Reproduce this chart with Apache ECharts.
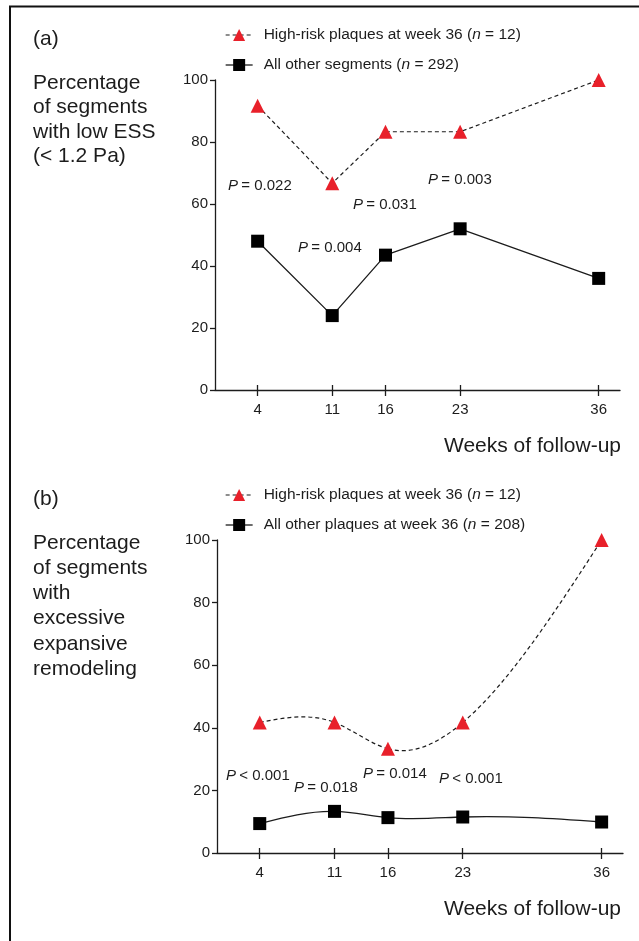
<!DOCTYPE html>
<html>
<head>
<meta charset="utf-8">
<script src="https://cdn.jsdelivr.net/npm/echarts@6/dist/echarts.min.js"></script>
<style>
html,body{margin:0;padding:0;background:#fff;}
#chart{width:639px;height:941px;}
</style>
</head>
<body>
<div id="chart"></div>
<script>
// ---- data ----
var weeks = [4, 11, 16, 23, 36];
var weekTicks = [4, 11, 16, 23, 36];
var highRiskA = [91.7, 66.7, 83.3, 83.3, 100];
var otherA = [48, 24, 43.5, 52, 36];
var highRiskB = [41.7, 41.7, 33.3, 41.7, 100];
var otherB = [9.4, 13.3, 11.3, 11.5, 9.9];
var legendA = [['High-risk plaques at week 36 (', 'n', ' = 12)'], ['All other segments (', 'n', ' = 292)']];
var legendB = [['High-risk plaques at week 36 (', 'n', ' = 12)'], ['All other plaques at week 36 (', 'n', ' = 208)']];
var pLabelsA = [['=', '0.022'], ['=', '0.004'], ['=', '0.031'], ['=', '0.003']];
var pLabelsB = [['<', '0.001'], ['=', '0.018'], ['=', '0.014'], ['<', '0.001']];
var yTitleA = ['Percentage', 'of segments', 'with low ESS', '(< 1.2 Pa)'];
var yTitleB = ['Percentage', 'of segments', 'with', 'excessive', 'expansive', 'remodeling'];
var xTitle = 'Weeks of follow-up';

function pairs(xs, ys) { return xs.map(function (x, i) { return [x, ys[i]]; }); }

var FONT = '"Liberation Sans", Arial, sans-serif';
var INK = '#1c1c1c';
var RED = '#e8202a';

// natural cubic spline slopes (used only to shape the drawn curve between data points)
function splineSlopes(x, y) {
  var n = x.length, h = [], i;
  for (i = 0; i < n - 1; i++) h.push(x[i + 1] - x[i]);
  var a = [], b = [], c = [], d = [];
  for (i = 0; i < n; i++) {
    if (i === 0 || i === n - 1) { a.push(0); b.push(1); c.push(0); d.push(0); }
    else {
      a.push(h[i - 1]); b.push(2 * (h[i - 1] + h[i])); c.push(h[i]);
      d.push(6 * ((y[i + 1] - y[i]) / h[i] - (y[i] - y[i - 1]) / h[i - 1]));
    }
  }
  for (i = 1; i < n; i++) {
    var m = a[i] / b[i - 1];
    b[i] -= m * c[i - 1]; d[i] -= m * d[i - 1];
  }
  var M = new Array(n);
  M[n - 1] = d[n - 1] / b[n - 1];
  for (i = n - 2; i >= 0; i--) M[i] = (d[i] - c[i] * M[i + 1]) / b[i];
  var s = [];
  for (i = 0; i < n; i++) {
    if (i < n - 1) s.push((y[i + 1] - y[i]) / h[i] - h[i] * (2 * M[i] + M[i + 1]) / 6);
    else s.push((y[i] - y[i - 1]) / h[i - 1] + h[i - 1] * (M[i - 1] + 2 * M[i]) / 6);
  }
  return s;
}

function splineCurve(name, gi, ys, lineStyle) {
  var slopes = splineSlopes(weeks, ys);
  return {
    name: name + '_curve', type: 'custom', xAxisIndex: gi * 2, yAxisIndex: gi,
    data: pairs(weeks, ys), silent: true, z: 2, clip: false,
    renderItem: function (params, api) {
      var i = params.dataIndex;
      if (i >= weeks.length - 1) return null;
      var x0 = weeks[i], x1 = weeks[i + 1], y0 = ys[i], y1 = ys[i + 1], h = x1 - x0;
      var p0 = api.coord([x0, y0]);
      var c1 = api.coord([x0 + h / 3, y0 + slopes[i] * h / 3]);
      var c2 = api.coord([x1 - h / 3, y1 - slopes[i + 1] * h / 3]);
      var p1 = api.coord([x1, y1]);
      return {
        type: 'bezierCurve',
        shape: { x1: p0[0], y1: p0[1], cpx1: c1[0], cpy1: c1[1], cpx2: c2[0], cpy2: c2[1], x2: p1[0], y2: p1[1] },
        style: Object.assign({ fill: null }, lineStyle)
      };
    }
  };
}

var legendNames = { hrA: legendA[0], otA: legendA[1], hrB: legendB[0], otB: legendB[1] };
function legendFmt(name) {
  var p = legendNames[name];
  return '{t|' + p[0] + '}{i|' + p[1] + '}{t|' + p[2] + '}';
}
var legendRich = {
  t: { fontFamily: FONT, fontSize: 15.5, color: INK },
  i: { fontFamily: FONT, fontSize: 15.5, color: INK, fontStyle: 'italic' }
};

var grids = [
  { left: 215, top: 80, width: 405, height: 310 },
  { left: 217, top: 540, width: 406, height: 313 }
];

function xAxisMain(gi) {
  return {
    type: 'value', gridIndex: gi, min: 0, max: 38,
    axisLine: { show: true, lineStyle: { color: INK, width: 1.3 } },
    axisTick: { show: true, customValues: weekTicks, length: 6, lineStyle: { color: INK, width: 1.3 } },
    axisLabel: { show: true, customValues: weekTicks, margin: 12, fontFamily: FONT, fontSize: 15, color: INK },
    splitLine: { show: false }
  };
}
function xAxisInner(gi) {
  return {
    type: 'value', gridIndex: gi, min: 0, max: 38, position: 'bottom',
    axisLine: { show: false },
    axisTick: { show: true, inside: true, customValues: weekTicks, length: 5, lineStyle: { color: INK, width: 1.3 } },
    axisLabel: { show: false },
    splitLine: { show: false }
  };
}
function yAxis(gi) {
  return {
    type: 'value', gridIndex: gi, min: 0, max: 100, interval: 20,
    axisLine: { show: true, lineStyle: { color: INK, width: 1.3 } },
    axisTick: { show: true, length: 5, lineStyle: { color: INK, width: 1.3 } },
    axisLabel: { margin: 7, fontFamily: FONT, fontSize: 15, color: INK },
    splitLine: { show: false }
  };
}

var dashLine = { color: INK, width: 1.2, type: [4, 3] };
var solidLine = { color: INK, width: 1.3, type: 'solid' };

function hrSeries(name, gi, data, hideLine) {
  return {
    name: name, type: 'line', xAxisIndex: gi * 2, yAxisIndex: gi,
    data: pairs(weeks, data),
    symbol: 'triangle', symbolSize: 14,
    itemStyle: { color: RED },
    lineStyle: Object.assign({}, dashLine, hideLine ? { opacity: 0 } : {}),
    z: 3
  };
}
function otSeries(name, gi, data, hideLine) {
  return {
    name: name, type: 'line', xAxisIndex: gi * 2, yAxisIndex: gi,
    data: pairs(weeks, data),
    symbol: 'rect', symbolSize: 13,
    itemStyle: { color: '#000' },
    lineStyle: Object.assign({}, solidLine, hideLine ? { opacity: 0 } : {}),
    z: 3
  };
}

function legend(names, top) {
  return {
    data: [
      { name: names[0], lineStyle: Object.assign({ opacity: 1 }, dashLine) },
      { name: names[1], lineStyle: Object.assign({ opacity: 1 }, solidLine) }
    ],
    orient: 'vertical', left: 225, top: top, padding: 0,
    itemWidth: 27, itemHeight: 15, itemGap: 14,
    formatter: legendFmt,
    textStyle: { rich: legendRich, padding: [0, 0, 0, 6] },
    selectedMode: false
  };
}

// ---- text annotations ----
var graphics = [];
graphics.push({ type: 'line', shape: { x1: 9, y1: 6.5, x2: 639, y2: 6.5 }, style: { stroke: '#111', lineWidth: 2 } });
graphics.push({ type: 'line', shape: { x1: 10, y1: 6, x2: 10, y2: 941 }, style: { stroke: '#111', lineWidth: 2 } });
function txt(x, y, text) {
  graphics.push({ type: 'text', left: x, top: y, silent: true,
    style: { text: text, fill: INK, font: '21px ' + FONT } });
}
txt(33, 29, '(a)');
txt(33, 489, '(b)');
graphics.push({ type: 'text', left: 33, top: 70.5, silent: true,
  style: { text: yTitleA.join('\n'), fill: INK, font: '21px ' + FONT, lineHeight: 24.5 } });
graphics.push({ type: 'text', left: 33, top: 530.5, silent: true,
  style: { text: yTitleB.join('\n'), fill: INK, font: '21px ' + FONT, lineHeight: 25.2 } });
graphics.push({ type: 'text', right: 18, top: 436, silent: true,
  style: { text: xTitle, fill: INK, font: '21px ' + FONT } });
graphics.push({ type: 'text', right: 18, top: 899, silent: true,
  style: { text: xTitle, fill: INK, font: '21px ' + FONT } });

function pText(x, yc, p) {
  graphics.push({ type: 'text', left: x, top: yc - 9, silent: true,
    style: {
      text: '{i|P} {t|' + p[0] + ' ' + p[1] + '}',
      rich: {
        i: { fontFamily: FONT, fontSize: 15, fontStyle: 'italic', fill: INK },
        t: { fontFamily: FONT, fontSize: 15, fill: INK }
      }
    } });
}
var pPosA = [[228, 187.5], [298, 249], [353, 206.5], [428, 181.5]];
var pPosB = [[226, 777.5], [294, 789], [363, 775], [439, 780]];
pLabelsA.forEach(function (p, i) { pText(pPosA[i][0], pPosA[i][1], p); });
pLabelsB.forEach(function (p, i) { pText(pPosB[i][0], pPosB[i][1], p); });

var chart = echarts.init(document.getElementById('chart'), null, { renderer: 'canvas' });
chart.setOption({
  animation: false,
  backgroundColor: '#fff',
  grid: grids,
  xAxis: [xAxisMain(0), xAxisInner(0), xAxisMain(1), xAxisInner(1)],
  yAxis: [yAxis(0), yAxis(1)],
  legend: [legend(['hrA', 'otA'], 27), legend(['hrB', 'otB'], 487)],
  series: [
    hrSeries('hrA', 0, highRiskA, false),
    otSeries('otA', 0, otherA, false),
    splineCurve('hrB', 1, highRiskB, { stroke: INK, lineWidth: 1.2, lineDash: [4, 3] }),
    splineCurve('otB', 1, otherB, { stroke: INK, lineWidth: 1.3 }),
    hrSeries('hrB', 1, highRiskB, true),
    otSeries('otB', 1, otherB, true)
  ],
  graphic: graphics
});
</script>
</body>
</html>
